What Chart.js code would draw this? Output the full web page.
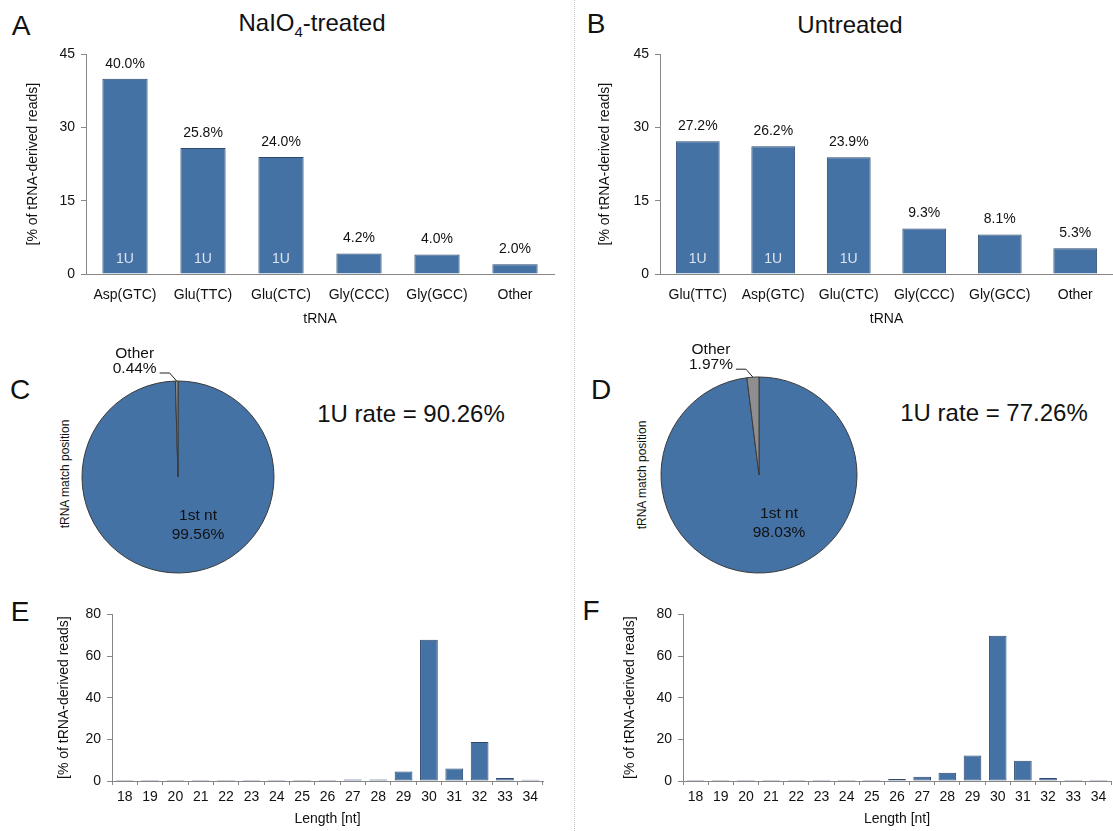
<!DOCTYPE html>
<html>
<head>
<meta charset="utf-8">
<title>tRNA-derived reads</title>
<script src="https://cdn.jsdelivr.net/npm/chart.js@4.4.1/dist/chart.umd.min.js"></script>
<style>
  body { margin: 0; background: #fff; }
  #page { position: relative; width: 1113px; height: 831px; overflow: hidden;
          font-family: "Liberation Sans", Arial, sans-serif; color: #111; }
  #page canvas { position: absolute; }
  .txt { position: absolute; line-height: 1; white-space: nowrap; transform: translate(-50%, -50%); }
  .letter { font-size: 28px; }
  .title { font-size: 24px; }
  .rate { font-size: 24px; }
  .side { font-size: 12px; transform: translate(-50%, -50%) rotate(-90deg); }
  #divider { position: absolute; left: 574px; top: 0; height: 831px; border-left: 1px dotted #c4c4c4; }
</style>
</head>
<body>
<div id="page">
  <div id="divider"></div>

  <div class="txt letter" style="left:21px; top:26px">A</div>
  <div class="txt letter" style="left:596px; top:24px">B</div>
  <div class="txt letter" style="left:20px; top:390px">C</div>
  <div class="txt letter" style="left:601px; top:390px">D</div>
  <div class="txt letter" style="left:20px; top:612px">E</div>
  <div class="txt letter" style="left:591px; top:611px">F</div>

  <div class="txt title" style="left:312px; top:25px">NaIO<sub style="font-size:15px">4</sub>-treated</div>
  <div class="txt title" style="left:850px; top:25px">Untreated</div>

  <div class="txt side" style="left:65px; top:474px">tRNA match position</div>
  <div class="txt side" style="left:642px; top:475px">tRNA match position</div>
  <div class="txt rate" id="rateC" style="left:411px; top:414px"></div>
  <div class="txt rate" id="rateD" style="left:994px; top:413px"></div>

  <canvas id="shareTreated" width="575" height="290" style="left:0; top:40px"></canvas>
  <canvas id="shareUntreated" width="538" height="290" style="left:575px; top:40px"></canvas>
  <canvas id="posTreated" width="280" height="280" style="left:38px; top:337px"></canvas>
  <canvas id="posUntreated" width="280" height="280" style="left:619px; top:335px"></canvas>
  <canvas id="lenTreated" width="575" height="231" style="left:0; top:600px"></canvas>
  <canvas id="lenUntreated" width="538" height="231" style="left:575px; top:600px"></canvas>
</div>

<script>
const FONT = '"Liberation Sans", Arial, sans-serif';
const BLUE = "rgb(69, 114, 165)";
const BAR_EDGE = "rgb(44, 72, 108)";
const AXIS = "#878787";

// top row: share of tRNA-derived reads per tRNA
const tRNATreated = ["Asp(GTC)", "Glu(TTC)", "Glu(CTC)", "Gly(CCC)", "Gly(GCC)", "Other"];
const shareTreated = [40.0, 25.8, 24.0, 4.2, 4.0, 2.0];
const markTreated = ["1U", "1U", "1U", "", "", ""];

const tRNAUntreated = ["Glu(TTC)", "Asp(GTC)", "Glu(CTC)", "Gly(CCC)", "Gly(GCC)", "Other"];
const shareUntreated = [27.2, 26.2, 23.9, 9.3, 8.1, 5.3];
const markUntreated = ["1U", "1U", "1U", "", "", ""];

const shareTicks = [0, 15, 30, 45];

// middle row: match position on the tRNA
const positions = ["1st nt", "Other"];
const posTreated = [99.56, 0.44];
const posUntreated = [98.03, 1.97];
const oneURate = [90.26, 77.26];

// bottom row: read length distribution
const lengths = ["18", "19", "20", "21", "22", "23", "24", "25", "26",
                 "27", "28", "29", "30", "31", "32", "33", "34"];
const lenTreated = [0.5, 0.5, 0.5, 0.5, 0.5, 0.5, 0.5, 0.5, 0.5,
                    0.7, 0.7, 4.6, 67.8, 6.0, 18.7, 1.4, 0.6];
const lenUntreated = [0.5, 0.5, 0.5, 0.5, 0.5, 0.5, 0.5, 0.5, 1.0,
                      2.0, 4.0, 12.2, 69.8, 9.7, 1.5, 0.5, 0.5];
const lengthTicks = [0, 20, 40, 60, 80];

Chart.defaults.font.family = FONT;
Chart.defaults.font.size = 14;
Chart.defaults.color = "#111";

// value on top of each bar, optional tag inside the bar foot
const barLabels = {
  id: "barLabels",
  afterDatasetsDraw(chart, args, opts) {
    const ctx = chart.ctx;
    const meta = chart.getDatasetMeta(0);
    const values = chart.data.datasets[0].data;
    ctx.save();
    ctx.font = "14px " + FONT;
    ctx.textAlign = "center";
    ctx.textBaseline = "middle";
    meta.data.forEach((bar, i) => {
      ctx.fillStyle = "#111";
      ctx.fillText(values[i].toFixed(1) + "%", bar.x, bar.y - 15);
      if (opts.marks && opts.marks[i]) {
        ctx.fillStyle = "#dde4ee";
        ctx.fillText(opts.marks[i], bar.x, bar.base - 14);
      }
    });
    ctx.restore();
  }
};

// slice labels, the small slice gets a leader line
const pieLabels = {
  id: "pieLabels",
  afterDatasetsDraw(chart) {
    const ctx = chart.ctx;
    const meta = chart.getDatasetMeta(0);
    const values = chart.data.datasets[0].data;
    const names = chart.data.labels;
    const big = meta.data[0];
    const small = meta.data[1];
    ctx.save();
    ctx.font = "15.5px " + FONT;
    ctx.fillStyle = "#111";
    ctx.textAlign = "center";
    ctx.textBaseline = "middle";
    ctx.fillText(names[0], big.x + 20, big.y + 39);
    ctx.fillText(values[0].toFixed(2) + "%", big.x + 20, big.y + 58);

    const mid = (small.startAngle + small.endAngle) / 2;
    const ex = small.x + Math.cos(mid) * small.outerRadius;
    const ey = small.y + Math.sin(mid) * small.outerRadius;
    const lx = ex - 42;
    const valText = values[1].toFixed(2) + "%";
    ctx.fillText(names[1], lx, ey - 27);
    ctx.fillText(valText, lx, ey - 12);
    const half = ctx.measureText(valText).width / 2;
    ctx.strokeStyle = "#222";
    ctx.lineWidth = 1;
    ctx.beginPath();
    ctx.moveTo(lx + half + 3, ey - 8);
    ctx.lineTo(ex - 7, ey - 8);
    ctx.lineTo(ex, ey);
    ctx.stroke();
    ctx.restore();
  }
};

function makeShareChart(id, labels, values, marks, axisWidth, titlePad, padRight) {
  new Chart(document.getElementById(id), {
    type: "bar",
    data: {
      labels: labels,
      datasets: [{
        data: values,
        backgroundColor: BLUE,
        borderColor: BAR_EDGE,
        borderWidth: 1,
        barPercentage: 0.58,
        categoryPercentage: 1
      }]
    },
    plugins: [barLabels],
    options: {
      responsive: false,
      animation: false,
      layout: { padding: { top: 12, right: padRight, bottom: 0, left: 0 } },
      scales: {
        x: {
          grid: { display: false, drawTicks: false },
          border: { display: true, color: AXIS },
          ticks: { padding: 13, maxRotation: 0, autoSkip: false, color: "#111" },
          title: { display: true, text: "tRNA", font: { size: 14 }, padding: { top: 0, bottom: 2 } },
          afterFit: (s) => { s.height = 56; }
        },
        y: {
          min: shareTicks[0],
          max: shareTicks[shareTicks.length - 1],
          ticks: { stepSize: shareTicks[1] - shareTicks[0], padding: 6, color: "#111" },
          grid: { drawOnChartArea: false, drawTicks: true, tickLength: 5, color: AXIS },
          border: { display: true, color: AXIS },
          title: { display: true, text: "[% of tRNA-derived reads]", font: { size: 14 },
                   padding: { top: titlePad, bottom: 0 } },
          afterFit: (s) => { s.width = axisWidth; }
        }
      },
      plugins: {
        legend: { display: false },
        tooltip: { enabled: false },
        barLabels: { marks: marks }
      }
    }
  });
}

function makePositionChart(id, values, radius) {
  new Chart(document.getElementById(id), {
    type: "pie",
    data: {
      labels: positions,
      datasets: [{
        data: values,
        backgroundColor: [BLUE, "#8e8e8e"],
        borderColor: "#3a3a3a",
        borderWidth: 1
      }]
    },
    plugins: [pieLabels],
    options: {
      responsive: false,
      animation: false,
      radius: radius,
      plugins: { legend: { display: false }, tooltip: { enabled: false } }
    }
  });
}

function makeLengthChart(id, values, axisWidth, titlePad, padRight) {
  new Chart(document.getElementById(id), {
    type: "bar",
    data: {
      labels: lengths,
      datasets: [{
        data: values,
        backgroundColor: BLUE,
        borderColor: BAR_EDGE,
        borderWidth: 1,
        borderSkipped: false,
        barPercentage: 0.7,
        categoryPercentage: 1
      }]
    },
    options: {
      responsive: false,
      animation: false,
      layout: { padding: { top: 14, right: padRight, bottom: 0, left: 0 } },
      scales: {
        x: {
          grid: { drawOnChartArea: false, drawTicks: true, tickLength: 4, color: AXIS },
          border: { display: true, color: AXIS },
          ticks: { padding: 4, maxRotation: 0, autoSkip: false, color: "#111" },
          title: { display: true, text: "Length [nt]", font: { size: 14 }, padding: { top: 0, bottom: 3 } },
          afterFit: (s) => { s.height = 50; }
        },
        y: {
          min: lengthTicks[0],
          max: lengthTicks[lengthTicks.length - 1],
          ticks: { stepSize: lengthTicks[1] - lengthTicks[0], padding: 6, color: "#111" },
          grid: { drawOnChartArea: false, drawTicks: true, tickLength: 5, color: AXIS },
          border: { display: true, color: AXIS },
          title: { display: true, text: "[% of tRNA-derived reads]", font: { size: 14 },
                   padding: { top: titlePad, bottom: 0 } },
          afterFit: (s) => { s.width = axisWidth; }
        }
      },
      plugins: { legend: { display: false }, tooltip: { enabled: false } }
    }
  });
}

makeShareChart("shareTreated", tRNATreated, shareTreated, markTreated, 86, 24.6, 21);
makeShareChart("shareUntreated", tRNAUntreated, shareUntreated, markUntreated, 85, 21.6, 0);
makePositionChart("posTreated", posTreated, 96);
makePositionChart("posUntreated", posUntreated, 98);
makeLengthChart("lenTreated", lenTreated, 112, 55.6, 32);
makeLengthChart("lenUntreated", lenUntreated, 108, 46.6, 2);

document.getElementById("rateC").textContent = "1U rate = " + oneURate[0].toFixed(2) + "%";
document.getElementById("rateD").textContent = "1U rate = " + oneURate[1].toFixed(2) + "%";
</script>
</body>
</html>
